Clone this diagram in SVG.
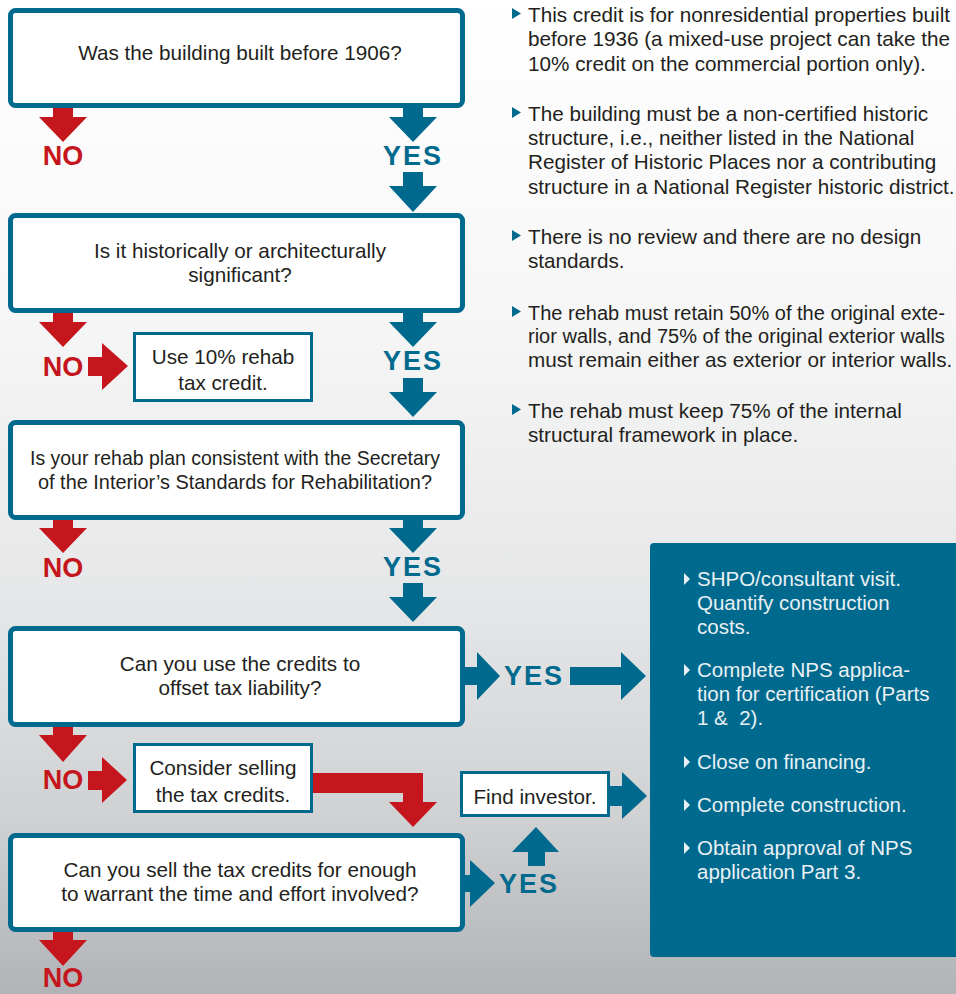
<svg xmlns="http://www.w3.org/2000/svg" width="956" height="994" viewBox="0 0 956 994">
  <defs>
    <linearGradient id="bg" x1="0" y1="0" x2="0" y2="1">
      <stop offset="0" stop-color="#ffffff"/>
      <stop offset="0.3" stop-color="#f7f7f7"/>
      <stop offset="0.6" stop-color="#e6e7e8"/>
      <stop offset="0.82" stop-color="#d0d1d3"/>
      <stop offset="1" stop-color="#b2b3b6"/>
    </linearGradient>
  </defs>
  <style>
    .q { fill: #ffffff; stroke: #006a8e; stroke-width: 5; }
    .s { fill: #ffffff; stroke: #006a8e; stroke-width: 3; }
    .t { font-family: "Liberation Sans", Arial, sans-serif; font-size: 20.7px; fill: #231f20; }
    .n { font-size: 20px; }
    .c { text-anchor: middle; }
    .w { font-family: "Liberation Sans", Arial, sans-serif; font-size: 20.5px; fill: #e9f0f4; }
    .no { font-family: "Liberation Sans", Arial, sans-serif; font-size: 27px; font-weight: bold; fill: #c4161c; text-anchor: middle; }
    .yes { font-family: "Liberation Sans", Arial, sans-serif; font-size: 27px; font-weight: bold; fill: #006a8e; letter-spacing: 2px; }
    .red { fill: #c4161c; }
    .blue { fill: #006a8e; }
    .wb { fill: #e9f0f4; }
  </style>

  <rect x="0" y="0" width="956" height="994" fill="url(#bg)"/>

  <!-- notes top right -->
  <g id="notes">
    <polygon class="blue" points="512,8 521,13.5 512,19"/>
    <text class="t" x="528" y="22">This credit is for nonresidential properties built</text>
    <text class="t" x="528" y="46">before 1936 (a mixed-use project can take the</text>
    <text class="t" x="528" y="71">10% credit on the commercial portion only).</text>
    <polygon class="blue" points="512,107 521,112.5 512,118"/>
    <text class="t" x="528" y="121">The building must be a non-certified historic</text>
    <text class="t" x="528" y="145">structure, i.e., neither listed in the National</text>
    <text class="t" x="528" y="169">Register of Historic Places nor a contributing</text>
    <text class="t" x="528" y="194">structure in a National Register historic district.</text>
    <polygon class="blue" points="512,230 521,235.5 512,241"/>
    <text class="t" x="528" y="244">There is no review and there are no design</text>
    <text class="t" x="528" y="268">standards.</text>
    <polygon class="blue" points="512,306 521,311.5 512,317"/>
    <text class="t n" x="528" y="320">The rehab must retain 50% of the original exte-</text>
    <text class="t n" x="528" y="343">rior walls, and 75% of the original exterior walls</text>
    <text class="t" x="528" y="367">must remain either as exterior or interior walls.</text>
    <polygon class="blue" points="512,404 521,409.5 512,415"/>
    <text class="t" x="528" y="418">The rehab must keep 75% of the internal</text>
    <text class="t" x="528" y="442">structural framework in place.</text>
  </g>

  <!-- steps panel -->
  <g id="steps">
    <rect class="blue" x="650" y="543" width="320" height="414" rx="4"/>
    <polygon class="wb" points="684,573 690,579 684,585"/>
    <text class="w" x="697" y="586">SHPO/consultant visit.</text>
    <text class="w" x="697" y="610">Quantify construction</text>
    <text class="w" x="697" y="634">costs.</text>
    <polygon class="wb" points="684,664 690,670 684,676"/>
    <text class="w" x="697" y="677">Complete NPS applica-</text>
    <text class="w" x="697" y="701">tion for certification (Parts</text>
    <text class="w" x="697" y="725" xml:space="preserve">1 &amp;  2).</text>
    <polygon class="wb" points="684,756 690,762 684,768"/>
    <text class="w" x="697" y="769">Close on financing.</text>
    <polygon class="wb" points="684,799 690,805 684,811"/>
    <text class="w" x="697" y="812">Complete construction.</text>
    <polygon class="wb" points="684,842 690,848 684,854"/>
    <text class="w" x="697" y="855">Obtain approval of NPS</text>
    <text class="w" x="697" y="879">application Part 3.</text>
  </g>

  <!-- connectors -->
  <g id="connectors">
    <!-- below box 1 -->
    <polygon class="red" points="53,108 73,108 73,117 87,117 63,142 39,117 53,117"/>
    <text class="no" x="63" y="165">NO</text>
    <polygon class="blue" points="403,108 423,108 423,117 437,117 413,142 389,117 403,117"/>
    <text class="yes" x="383" y="165">YES</text>
    <polygon class="blue" points="403,172 423,172 423,186 437,186 413,212 389,186 403,186"/>

    <!-- below box 2 -->
    <polygon class="red" points="53,313 73,313 73,322 87,322 63,347 39,322 53,322"/>
    <text class="no" x="63" y="376">NO</text>
    <polygon class="red" points="88,357 102,357 102,343 128,366 102,390 102,376 88,376"/>
    <polygon class="blue" points="403,313 423,313 423,322 437,322 413,347 389,322 403,322"/>
    <text class="yes" x="383" y="370">YES</text>
    <polygon class="blue" points="403,378 423,378 423,392 437,392 413,417 389,392 403,392"/>

    <!-- below box 3 -->
    <polygon class="red" points="53,520 73,520 73,528 87,528 63,553 39,528 53,528"/>
    <text class="no" x="63" y="577">NO</text>
    <polygon class="blue" points="403,520 423,520 423,528 437,528 413,553 389,528 403,528"/>
    <text class="yes" x="383" y="576">YES</text>
    <polygon class="blue" points="403,583 423,583 423,597 437,597 413,622 389,597 403,597"/>

    <!-- right of box 4 -->
    <polygon class="blue" points="463,667 477,667 477,652 500,676 477,700 477,685 463,685"/>
    <text class="yes" x="504" y="685">YES</text>
    <polygon class="blue" points="570,667 621,667 621,652 646,676 621,700 621,685 570,685"/>

    <!-- below box 4 -->
    <polygon class="red" points="53,727 73,727 73,735 87,735 63,762 39,735 53,735"/>
    <text class="no" x="63" y="789">NO</text>
    <polygon class="red" points="88,771 102,771 102,757 127,780 102,803 102,790 88,790"/>

    <!-- consider selling to box 5 -->
    <polygon class="red" points="313,773 423,773 423,802 437,802 413,827 389,802 403,802 403,793 313,793"/>

    <!-- find investor to panel -->
    <polygon class="blue" points="610,786 622,786 622,772 647,796 622,819 622,806 610,806"/>

    <!-- right of box 5 -->
    <polygon class="blue" points="456,875 470,875 470,860 495,883 470,907 470,892 456,892"/>
    <text class="yes" x="499" y="893">YES</text>
    <polygon class="blue" points="528,866 545,866 545,852 559,852 536,827 512,852 528,852"/>

    <!-- below box 5 -->
    <polygon class="red" points="53,932 73,932 73,940 87,940 63,966 39,940 53,940"/>
    <text class="no" x="63" y="987">NO</text>
  </g>

  <!-- question boxes -->
  <g id="q1">
    <rect class="q" x="10.5" y="10.5" width="452" height="95" rx="5"/>
    <text class="t c" x="240" y="60">Was the building built before 1906?</text>
  </g>
  <g id="q2">
    <rect class="q" x="10.5" y="215.5" width="452" height="95" rx="5"/>
    <text class="t c" x="240" y="258">Is it historically or architecturally</text>
    <text class="t c" x="240" y="282">significant?</text>
  </g>
  <g id="r10">
    <rect class="s" x="134.5" y="333.5" width="177" height="67"/>
    <text class="t c" x="223" y="364">Use 10% rehab</text>
    <text class="t c" x="223" y="390">tax credit.</text>
  </g>
  <g id="q3">
    <rect class="q" x="10.5" y="422.5" width="452" height="95" rx="5"/>
    <text class="t c" x="235" y="465" textLength="410" lengthAdjust="spacingAndGlyphs">Is your rehab plan consistent with the Secretary</text>
    <text class="t c" x="235" y="489" textLength="394" lengthAdjust="spacingAndGlyphs">of the Interior’s Standards for Rehabilitation?</text>
  </g>
  <g id="q4">
    <rect class="q" x="10.5" y="628.5" width="452" height="96" rx="5"/>
    <text class="t c" x="240" y="671">Can you use the credits to</text>
    <text class="t c" x="240" y="695">offset tax liability?</text>
  </g>
  <g id="sell">
    <rect class="s" x="134.5" y="744.5" width="177" height="67"/>
    <text class="t c" x="223" y="775">Consider selling</text>
    <text class="t c" x="223" y="802">the tax credits.</text>
  </g>
  <g id="investor">
    <rect class="s" x="461.5" y="772.5" width="147" height="43"/>
    <text class="t c" x="535" y="804">Find investor.</text>
  </g>
  <g id="q5">
    <rect class="q" x="10.5" y="835.5" width="452" height="94" rx="5"/>
    <text class="t c" x="240" y="877">Can you sell the tax credits for enough</text>
    <text class="t c" x="240" y="901">to warrant the time and effort involved?</text>
  </g>
</svg>
